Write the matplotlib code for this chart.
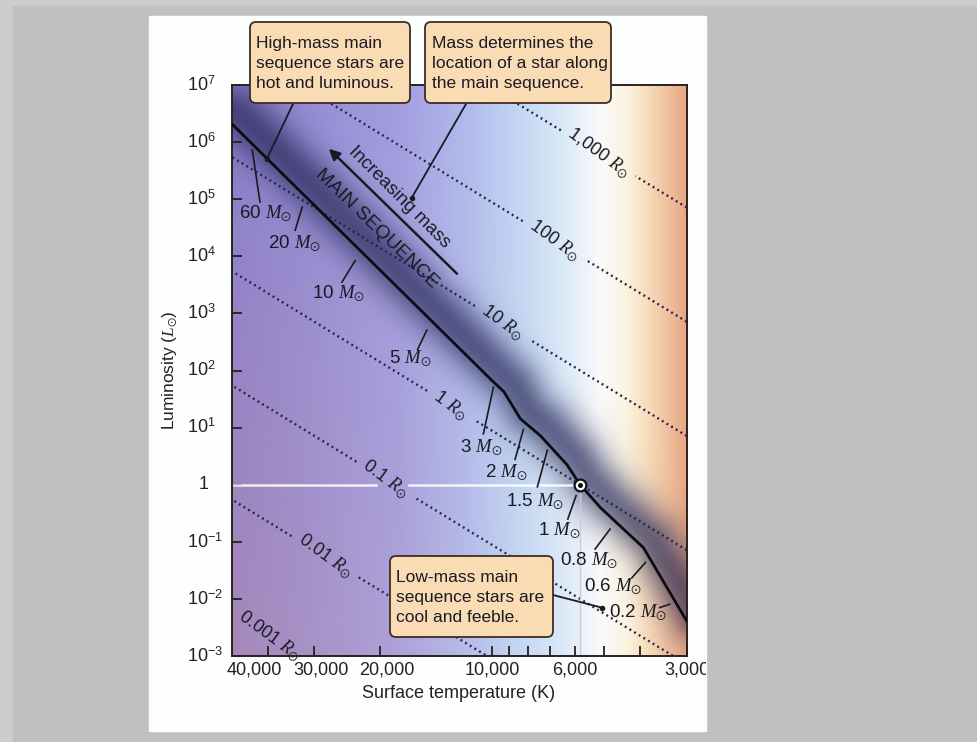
import numpy as np
import matplotlib
matplotlib.use('Agg')
import matplotlib.pyplot as plt
from matplotlib.patches import Rectangle, FancyBboxPatch
from matplotlib.ticker import NullFormatter, NullLocator
from matplotlib.transforms import blended_transform_factory, ScaledTranslation, Bbox

plt.rcParams['font.family'] = ['Liberation Sans', 'DejaVu Sans']
plt.rcParams['mathtext.fontset'] = 'custom'
plt.rcParams['mathtext.rm'] = 'Liberation Sans'
plt.rcParams['mathtext.it'] = 'Liberation Serif:italic'
plt.rcParams['mathtext.bf'] = 'Liberation Sans:bold'
plt.rcParams['mathtext.fallback'] = 'stix'

# --- data ---
# main sequence track: surface temperature (K) and luminosity (L_sun)
ms_temp = [50000, 9910, 9290, 8390, 7410, 6290, 5800, 5110, 3920, 3000]
ms_lum = [2.1e6, 63, 42.6, 14.3, 7.2, 2.24, 1.0, 0.395, 0.079, 0.0041]

# stellar masses marked along the main sequence
mass_labels = ['60', '20', '10', '5', '3', '2', '1.5', '1', '0.8', '0.6', '0.2']
mass_temp = [44300, 31600, 22490, 14540, 9870, 8150, 7000, 5800, 4730, 3800, 3170]

# lines of constant radius (R_sun)
radii = [1000, 100, 10, 1, 0.1, 0.01, 0.001]
radius_labels = ['1,000', '100', '10', '1', '0.1', '0.01', '0.001']
radius_label_temp = [5190, 6810, 9380, 12930, 19320, 28150, 39790]

sun_temp = 5800
sun_lum = 1.0

temp_ticks = [40000, 30000, 20000, 10000, 6000, 3000]
temp_ticklabels = ['40,000', '30,000', '20,000', '10,000', '6,000', '3,000']
temp_minor = [9000, 8000, 7000, 5000, 4000]
lum_ticks = [1e7, 1e6, 1e5, 1e4, 1e3, 1e2, 1e1, 1, 1e-1, 1e-2, 1e-3]
lum_ticklabels = [r'$10^{7}$', r'$10^{6}$', r'$10^{5}$', r'$10^{4}$', r'$10^{3}$',
                  r'$10^{2}$', r'$10^{1}$', '1', r'$10^{-1}$', r'$10^{-2}$', r'$10^{-3}$']

# --- layout (pixels) ---
W, H = 978, 742
ink = '#1b1a24'
dots = '#22224a'

# tick segment ends and label centres, pixel offsets (right, down) from the MS point
tick_near = [(1, 7), (-3.7, 10), (-5.7, 9.3), (-4.6, 9.3), (-0.7, 4.7), (-1.7, 6.7),
             (-2.3, 4.3), (-4, 11), (-3, 9.7), (-3, 6.3), (-8, -1.7)]
tick_far = [(8.7, 59), (-10.7, 33.3), (-19, 31), (-13.9, 28.7), (-10.7, 51.3), (-10, 36.7),
            (-12.3, 41), (-12.3, 34.3), (-18, 29.7), (-16.3, 21.3), (-18, 1.7)]
label_off = [(14, 71), (-11, 47), (-22, 43), (-21, 38), (-13, 65), (-19, 50),
             (-15, 56), (-21, 46), (-24, 41), (-35, 31), (-40, 7)]
# horizontal nudges of the temperature labels so they do not collide
xlabel_shift = [-13, 7, 7, 0, 0, 0]

fig = plt.figure(figsize=(W / 100, H / 100), dpi=100, facecolor='#c0c0c0')

# page behind the chart
under = fig.add_axes([0, 0, 1, 1], zorder=-2)
under.set_xlim(0, W)
under.set_ylim(H, 0)
under.axis('off')
under.add_patch(Rectangle((0, 0), W, H, color='#cdcdcd'))
under.add_patch(Rectangle((13, 6), W - 13, H - 6, color='#c0c0c0'))
under.add_patch(Rectangle((149, 16), 557, 715, color='#fdfefe'))

pos = [231.7 / W, 1 - 656 / H, 455 / W, 571 / H]
bg = fig.add_axes(pos, zorder=-1)
ax = fig.add_axes(pos, zorder=1)
ax.set_facecolor('none')

ax.set_xscale('log')
ax.set_yscale('log')
ax.set_xlim(50000, 3000)
ax.set_ylim(1e-3, 1e7)

# --- colour background: temperature gradient plus dark band along the main sequence ---
ext = ax.get_window_extent()
bx0, by0, bx1, by1 = ext.x0, ext.y0, ext.x1, ext.y1
nx, ny = int(round(bx1 - bx0)), int(round(by1 - by0))
PX, PY = np.meshgrid(bx0 + np.arange(nx) + 0.5, by1 - np.arange(ny) - 0.5)
xf = (PX - bx0) / (bx1 - bx0)
yf = (PY - by0) / (by1 - by0)

stops = [0.0, 0.15, 0.37, 0.52, 0.63, 0.73, 0.81, 0.865, 0.91, 0.955, 1.0]
cols = np.array([(152, 132, 196), (157, 142, 204), (168, 160, 220), (180, 188, 234),
                 (195, 214, 242), (220, 234, 248), (250, 250, 250), (252, 244, 226),
                 (247, 222, 190), (240, 195, 160), (232, 165, 130)]) / 255.0
rgb = np.stack([np.interp(xf, stops, cols[:, k]) for k in range(3)], axis=-1)

# top-left a little bluer, bottom-left a little pinker
w = np.clip(1 - xf / 0.65, 0, 1)[..., None]
tint = np.array([-14, -4, 10]) / 255.0
rgb = rgb + w * (yf[..., None] - 0.5) * 2 * tint

ms_disp = ax.transData.transform(np.column_stack([ms_temp, ms_lum]))
best = np.full(PX.shape, np.inf)
side = np.zeros(PX.shape)
for (x0, y0), (x1, y1) in zip(ms_disp[:-1], ms_disp[1:]):
    dx, dy = x1 - x0, y1 - y0
    t = np.clip(((PX - x0) * dx + (PY - y0) * dy) / (dx * dx + dy * dy), 0, 1)
    d = np.hypot(PX - x0 - t * dx, PY - y0 - t * dy)
    cr = dx * (PY - y0) - dy * (PX - x0)
    m = d < best
    best[m] = d[m]
    side[m] = np.sign(cr[m])
sd = best * side
glow = (0.66 * np.exp(-0.5 * ((sd - 12) / 19.0) ** 2))[..., None]
navy = np.array([34, 34, 84]) / 255.0
rgb = np.clip(rgb * (1 - glow) + navy * glow, 0, 1)

bg.imshow(rgb, extent=(0, 1, 0, 1), aspect='auto', interpolation='bilinear')
bg.set_xlim(0, 1)
bg.set_ylim(0, 1)
bg.axis('off')

# --- axes styling ---
ax.set_xticks(temp_ticks, labels=temp_ticklabels)
ax.set_xticks(temp_minor, minor=True)
ax.xaxis.set_minor_formatter(NullFormatter())
ax.set_yticks(lum_ticks, labels=[''] * len(lum_ticks))
ax.yaxis.set_minor_locator(NullLocator())
ax.tick_params(axis='both', which='both', direction='in', length=7, width=1.3,
               color='#222222', top=False, right=False)
ax.tick_params(axis='x', labelsize=13, pad=4, labelcolor='#222222')
for s in ax.spines.values():
    s.set_linewidth(1.4)
    s.set_color('#2a2020')

page_clip = Bbox.from_extents(149, H - 731, 706, H - 16)
for lab, dxp in zip(ax.get_xticklabels(), xlabel_shift):
    lab.set_transform(lab.get_transform() + ScaledTranslation(dxp / 100, 0, fig.dpi_scale_trans))
    lab.set_clip_on(True)
    lab.set_clip_box(page_clip)

ytrans = blended_transform_factory(fig.transFigure, ax.transData)
for v, lab in zip(lum_ticks, lum_ticklabels):
    x = 199 / W if lab == '1' else 187 / W
    ax.text(x, v, lab, transform=ytrans, ha='left', va='center', fontsize=13,
            color='#222222', clip_on=False)

fig.text(459 / W, 1 - 693 / H, 'Surface temperature (K)', ha='center', va='center',
         fontsize=13, color='#222222')
fig.text(170 / W, 1 - 370 / H, r'Luminosity ($L_{\odot}$)', ha='center', va='center',
         rotation=90, fontsize=12.5, color='#222222')

renderer = fig.canvas.get_renderer()

# --- constant radius lines ---
tgrid = np.geomspace(3000, 50000, 800)
r_angle = 36
label_boxes = []
for r, lab, tl in zip(radii, radius_labels, radius_label_temp):
    txt = ax.text(tl, r ** 2 * (tl / sun_temp) ** 4, lab + r' $R_{\odot}$', rotation=-r_angle,
                  rotation_mode='anchor', ha='center', va='center', fontsize=13,
                  color=ink, zorder=4)
    bb = txt.get_window_extent(renderer)
    label_boxes.append(bb)
    lum = r ** 2 * (tgrid / sun_temp) ** 4
    xd = ax.transData.transform(np.column_stack([tgrid, lum]))[:, 0]
    lum = np.where((xd > bb.x0 - 2) & (xd < bb.x1 + 2), np.nan, lum)
    ax.plot(tgrid, lum, color=dots, lw=1.7, linestyle=(0, (0.8, 1.5)), zorder=2)

# white guide lines through the Sun
bb = label_boxes[4]
cx, cy = (bb.x0 + bb.x1) / 2, (bb.y0 + bb.y1) / 2
sun_disp = ax.transData.transform((sun_temp, sun_lum))
gap_c = cx + (cy - sun_disp[1]) / np.tan(np.radians(r_angle))
hl_t = np.geomspace(sun_temp, 50000, 400)
hx = ax.transData.transform(np.column_stack([hl_t, np.ones_like(hl_t)]))[:, 0]
hl_l = np.where(np.abs(hx - gap_c) < 16, np.nan, 1.0)
ax.plot(hl_t, hl_l, color='white', lw=1.8, alpha=0.85, zorder=2)
ax.plot([sun_temp, sun_temp], [sun_lum, 1e-3], color='#c9cdd6', lw=1.0, zorder=2)

# --- main sequence ---
ax.plot(ms_temp, ms_lum, color='#0c0c10', lw=2.0, zorder=5, solid_joinstyle='miter')

order = np.argsort(ms_temp)
lt_sorted = np.log10(np.array(ms_temp))[order]
ll_sorted = np.log10(np.array(ms_lum))[order]


def ms_lum_at(t):
    return 10 ** np.interp(np.log10(t), lt_sorted, ll_sorted)


inv = ax.transData.inverted()
for lab, tm, tn, tf, lo in zip(mass_labels, mass_temp, tick_near, tick_far, label_off):
    p = ax.transData.transform((tm, ms_lum_at(tm)))
    seg = inv.transform([(p[0] + tn[0], p[1] - tn[1]), (p[0] + tf[0], p[1] - tf[1])])
    ax.plot(seg[:, 0], seg[:, 1], color=ink, lw=1.2, zorder=5)
    ax.annotate(lab + r' $M_{\odot}$', xy=(tm, ms_lum_at(tm)), xytext=(lo[0], -lo[1]),
                textcoords='offset pixels', ha='center', va='center', fontsize=13.5,
                color=ink, zorder=5)

# the Sun
ax.plot(sun_temp, sun_lum, 'o', ms=8.5, mfc='white', mec='#111111', mew=1.6, zorder=7)
ax.plot(sun_temp, sun_lum, 'o', ms=2.6, color='#111111', zorder=8)

# main sequence labels and arrow
ax.text(20430, 3.0e4, 'MAIN SEQUENCE', rotation=-44, rotation_mode='anchor',
        ha='center', va='center', fontsize=14, color=ink, zorder=5)
ax.text(17790, 1.07e5, 'Increasing mass', rotation=-45, rotation_mode='anchor',
        ha='center', va='center', fontsize=13.5, color=ink, zorder=5)
ax.annotate('', xy=(27420, 7.66e5), xytext=(12420, 4960),
            arrowprops=dict(arrowstyle='-|>', lw=1.8, color=ink, mutation_scale=16,
                            shrinkA=0, shrinkB=0), zorder=5)

# --- callout boxes ---
lay = fig.add_axes([0, 0, 1, 1], zorder=5)
lay.set_xlim(0, W)
lay.set_ylim(H, 0)
lay.axis('off')
lay.patch.set_alpha(0)

boxes = [((250, 22, 160, 81), 'High-mass main\nsequence stars are\nhot and luminous.', 256),
         ((425, 22, 186, 81), 'Mass determines the\nlocation of a star along\nthe main sequence.', 432),
         ((390, 556, 163, 81), 'Low-mass main\nsequence stars are\ncool and feeble.', 396)]
for (bx, by, bw, bh), text, tx in boxes:
    lay.add_patch(FancyBboxPatch((bx, by), bw, bh, boxstyle='round,pad=0,rounding_size=6',
                                 fc='#fadcb4', ec='#3d2c22', lw=1.3))
    lay.text(tx, by + bh / 2 + 1, text, ha='left', va='center', fontsize=12.5,
             linespacing=1.38, color=ink)

# leader lines from the boxes
leaders = [((293, 104), (40200, ms_lum_at(40200))),
           ((466, 104), (16410, 1.07e5)),
           ((553, 595), (5057, 7.0e-3))]
for (fx, fy), target in leaders:
    ax.annotate('', xy=target, xytext=(fx, H - fy), textcoords='figure pixels',
                arrowprops=dict(arrowstyle='-', lw=1.3, color=ink, shrinkA=0, shrinkB=0),
                zorder=6)
    ax.plot(*target, 'o', ms=3, color=ink, zorder=6)

fig.savefig('out.png', dpi=100, facecolor=fig.get_facecolor())
